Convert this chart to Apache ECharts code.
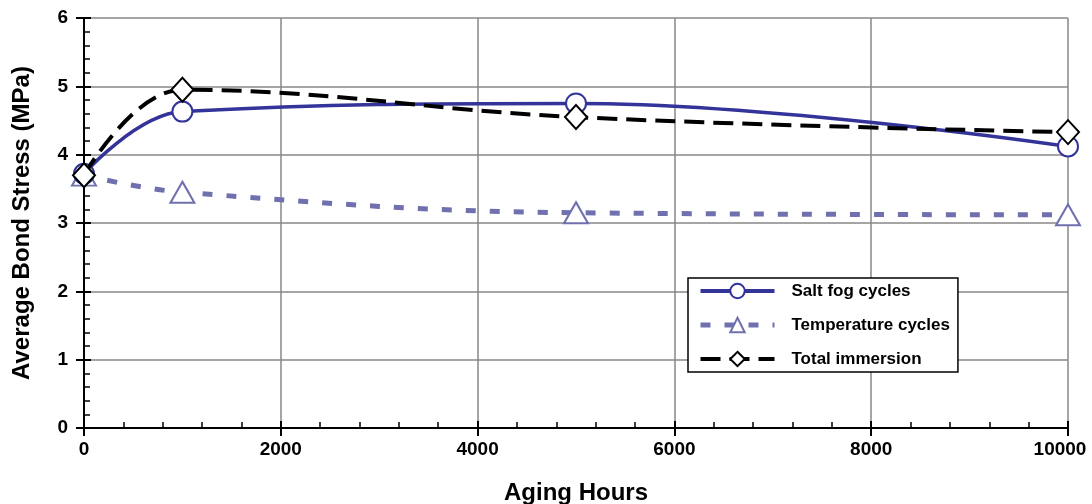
<!DOCTYPE html>
<html>
<head>
<meta charset="utf-8">
<script src="https://cdn.jsdelivr.net/npm/echarts@6/dist/echarts.min.js"></script>
<style>
  html, body { margin: 0; padding: 0; background: #fff; }
  #chart { width: 1092px; height: 504px; }
</style>
</head>
<body>
<div id="chart"></div>
<script>
// Datos
const hours = [0, 1000, 5000, 10000];
const saltFog = [3.72, 4.63, 4.75, 4.12];
const tempCycles = [3.70, 3.45, 3.15, 3.12];
const immersion = [3.70, 4.95, 4.55, 4.33];
const seriesNames = ["Salt fog cycles", "Temperature cycles", "Total immersion"];

const pairs = vals => hours.map((h, i) => [h, vals[i]]);
const font = "'Liberation Sans', Arial, sans-serif";

const chart = echarts.init(document.getElementById("chart"));

// eje "marco" (solo la línea negra, sin ticks ni etiquetas)
const frameAxis = (pos, min, max) => ({
  type: "value", min, max, position: pos,
  axisLine: { show: true, lineStyle: { color: "#000", width: 2 } },
  axisTick: { show: false }, axisLabel: { show: false }, splitLine: { show: false }
});

const option = {
  animation: false,
  backgroundColor: "#fff",
  grid: { left: 84, right: 24, top: 18, bottom: 76, outerBoundsMode: "none", containLabel: false },
  legend: {
    orient: "vertical",
    left: 688, top: 278,
    backgroundColor: "#fff",
    borderColor: "#000", borderWidth: 1.5,
    padding: [4, 8, 4, 10],
    itemWidth: 74, itemHeight: 18, itemGap: 16,
    textStyle: {
      fontFamily: font, fontWeight: "bold", fontSize: 17, color: "#000",
      lineHeight: 18, padding: [0, 0, 0, 12]
    },
    data: [
      { name: seriesNames[0], lineStyle: { width: 4 } },
      { name: seriesNames[1], lineStyle: { width: 5 } },
      { name: seriesNames[2], lineStyle: { width: 4 } }
    ]
  },
  xAxis: [{
    type: "value", min: 0, max: 10000, interval: 2000,
    name: "Aging Hours", nameLocation: "middle", nameGap: 53,
    nameTextStyle: { fontFamily: font, fontWeight: "bold", fontSize: 24, color: "#000" },
    axisLine: { lineStyle: { color: "#000", width: 2 } },
    axisTick: { show: true, inside: false, length: 8, lineStyle: { color: "#000", width: 2 } },
    axisLabel: {
      fontFamily: font, fontWeight: "bold", fontSize: 19, color: "#000", margin: 12,
      // la última etiqueta queda algo desplazada hacia la izquierda
      formatter: v => v === 10000 ? "{r|" + v + "}" : String(v),
      rich: { r: { fontFamily: font, fontWeight: "bold", fontSize: 19, color: "#000", padding: [0, 16, 0, 0] } }
    },
    splitLine: { show: true, lineStyle: { color: "#878787", width: 1.5 } }
  }, {
    type: "value", min: 0, max: 10000, interval: 2000, position: "bottom",
    axisLine: { show: false },
    axisTick: { show: true, inside: true, length: 7, lineStyle: { color: "#000", width: 2 } },
    minorTick: { show: true, splitNumber: 5, length: 6, lineStyle: { color: "#000", width: 1.5 } },
    axisLabel: { show: false },
    splitLine: { show: false }
  }, frameAxis("top", 0, 10000)],
  yAxis: [{
    type: "value", min: 0, max: 6, interval: 1,
    name: "Average Bond Stress (MPa)", nameLocation: "middle", nameGap: 50,
    nameTextStyle: { fontFamily: font, fontWeight: "bold", fontSize: 24, color: "#000" },
    axisLine: { show: true, lineStyle: { color: "#000", width: 2 } },
    axisTick: { show: true, inside: false, length: 8, lineStyle: { color: "#000", width: 2 } },
    axisLabel: { fontFamily: font, fontWeight: "bold", fontSize: 19, color: "#000", margin: 16 },
    splitLine: { show: true, lineStyle: { color: "#878787", width: 1.5 } }
  }, {
    type: "value", min: 0, max: 6, interval: 1, position: "left",
    axisLine: { show: false },
    axisTick: { show: true, inside: true, length: 7, lineStyle: { color: "#000", width: 2 } },
    minorTick: { show: true, splitNumber: 5, length: 6, lineStyle: { color: "#000", width: 1.5 } },
    axisLabel: { show: false },
    splitLine: { show: false }
  }, frameAxis("right", 0, 6)],
  series: [{
    name: seriesNames[0], type: "line", smooth: 0.4,
    data: pairs(saltFog),
    symbol: "circle", symbolSize: 20,
    lineStyle: { color: "#333399", width: 3.5 },
    itemStyle: { color: "#fff", borderColor: "#333399", borderWidth: 2 },
    z: 3
  }, {
    name: seriesNames[1], type: "line", smooth: 0.4,
    data: pairs(tempCycles),
    symbol: "triangle", symbolSize: [24, 21],
    lineStyle: { color: "#7070ae", width: 5, type: [10, 14] },
    itemStyle: { color: "#fff", borderColor: "#7070ae", borderWidth: 2 },
    z: 2
  }, {
    name: seriesNames[2], type: "line", smooth: 0.4,
    data: pairs(immersion),
    symbol: "diamond", symbolSize: [22, 24],
    lineStyle: { color: "#000", width: 4, type: [20, 9] },
    itemStyle: { color: "#fff", borderColor: "#000", borderWidth: 2 },
    z: 4
  }]
};

chart.setOption(option);
</script>
</body>
</html>
